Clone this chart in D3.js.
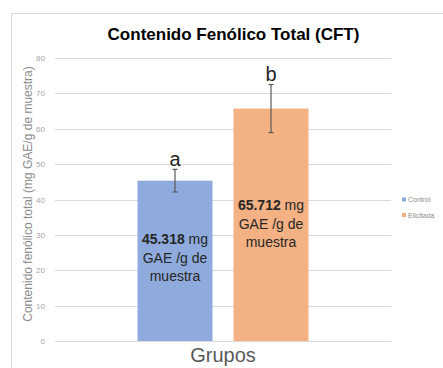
<!DOCTYPE html>
<html>
<head>
<meta charset="utf-8">
<script src="https://cdn.jsdelivr.net/npm/d3@7"></script>
<style>
  body { margin: 0; background: #fff; }
  svg { display: block; font-family: "Liberation Sans", Arial, sans-serif; }
</style>
</head>
<body>
<svg id="chart" width="443" height="368"></svg>
<script>
const groups = ["Grupos"];
const series = ["Control", "Elicitada"];
const values = [45.318, 65.712];
const errors = [3.2, 6.8];
const letters = ["a", "b"];
const valueLabels = ["45.318", "65.712"];
const yTicks = [0, 10, 20, 30, 40, 50, 60, 70, 80];
const title = "Contenido Fenólico Total (CFT)";
const yTitle = "Contenido fenólico total (mg GAE/g de muestra)";

const colors = ["#8FAADC", "#F4B183"];
const labelOffsets = [63.5, 101.5];

const svg = d3.select("#chart");
svg.append("rect").attr("width", 443).attr("height", 368).attr("fill", "#fff");
svg.append("rect").attr("x", 11.5).attr("y", 13.5).attr("width", 460).attr("height", 400)
  .attr("fill", "none").attr("stroke", "#d9d9d9");

const plot = { left: 55, right: 391, top: 58, bottom: 341 };
const y = d3.scaleLinear().domain([0, 80]).range([plot.bottom, plot.top]);
const x0 = d3.scaleBand().domain(groups).range([plot.left, plot.right]).paddingInner(0).paddingOuter(0.4825);
const x1 = d3.scaleBand().domain(series)
  .range([x0(groups[0]), x0(groups[0]) + x0.bandwidth()])
  .paddingInner(0.21875).paddingOuter(0);

// gridlines
svg.append("g").selectAll("line").data(yTicks).join("line")
  .attr("x1", plot.left).attr("x2", plot.right)
  .attr("y1", d => Math.round(y(d)) + 0.5).attr("y2", d => Math.round(y(d)) + 0.5)
  .attr("stroke", "#d9d9d9").attr("stroke-width", 1);

// y axis tick labels
const yAxis = d3.axisLeft(y).tickValues(yTicks).tickSize(0).tickPadding(0);
const ya = svg.append("g").attr("transform", "translate(45,0)").call(yAxis);
ya.select(".domain").remove();
ya.selectAll("text").attr("font-size", 8).attr("fill", "#a6a6a6")
  .attr("font-family", "'Liberation Sans', Arial, sans-serif");

// bars
svg.append("g").selectAll("rect").data(series).join("rect")
  .attr("x", d => x1(d)).attr("width", x1.bandwidth())
  .attr("y", (d, i) => y(values[i])).attr("height", (d, i) => y(0) - y(values[i]))
  .attr("fill", (d, i) => colors[i]);

// error bars
const eb = svg.append("g").attr("stroke", "#595959").attr("stroke-width", 1.2);
series.forEach((s, i) => {
  const cx = x1(s) + x1.bandwidth() / 2;
  const hi = y(values[i] + errors[i]), lo = y(values[i] - errors[i]);
  eb.append("line").attr("x1", cx).attr("x2", cx).attr("y1", hi).attr("y2", lo);
  eb.append("line").attr("x1", cx - 2.5).attr("x2", cx + 2.5).attr("y1", hi).attr("y2", hi);
  eb.append("line").attr("x1", cx - 2.5).attr("x2", cx + 2.5).attr("y1", lo).attr("y2", lo);
  svg.append("text").attr("x", cx).attr("y", hi - 3).attr("text-anchor", "middle")
    .attr("font-size", 20).attr("fill", "#262626").text(letters[i]);
  // value labels inside bars
  const t = svg.append("text").attr("text-anchor", "middle").attr("font-size", 14).attr("fill", "#262626");
  const by = y(values[i]) + labelOffsets[i];
  const l1 = t.append("tspan").attr("x", cx).attr("y", by);
  l1.append("tspan").attr("font-weight", "bold").text(valueLabels[i]);
  l1.append("tspan").text(" mg");
  t.append("tspan").attr("x", cx).attr("y", by + 18.5).text("GAE /g de");
  t.append("tspan").attr("x", cx).attr("y", by + 37).text("muestra");
});

// title
svg.append("text").attr("x", 233.5).attr("y", 40).attr("text-anchor", "middle")
  .attr("font-size", 17).attr("font-weight", "bold").attr("fill", "#000").text(title);

// y title
svg.append("text").attr("transform", "translate(32,194) rotate(-90)").attr("text-anchor", "middle")
  .attr("font-size", 12).attr("fill", "#8c8c8c").text(yTitle);

// x title
svg.append("text").attr("x", x0(groups[0]) + x0.bandwidth() / 2).attr("y", 362).attr("text-anchor", "middle")
  .attr("font-size", 20).attr("fill", "#595959").text(groups[0]);

// legend
const lg = svg.append("g");
series.forEach((s, i) => {
  const ly = 199.5 + i * 15.5;
  lg.append("rect").attr("x", 402).attr("y", ly - 2).attr("width", 4).attr("height", 4).attr("fill", colors[i]);
  lg.append("text").attr("x", 408).attr("y", ly + 2.5).attr("font-size", 7).attr("fill", "#8c8c8c").text(s);
});
</script>
</body>
</html>
